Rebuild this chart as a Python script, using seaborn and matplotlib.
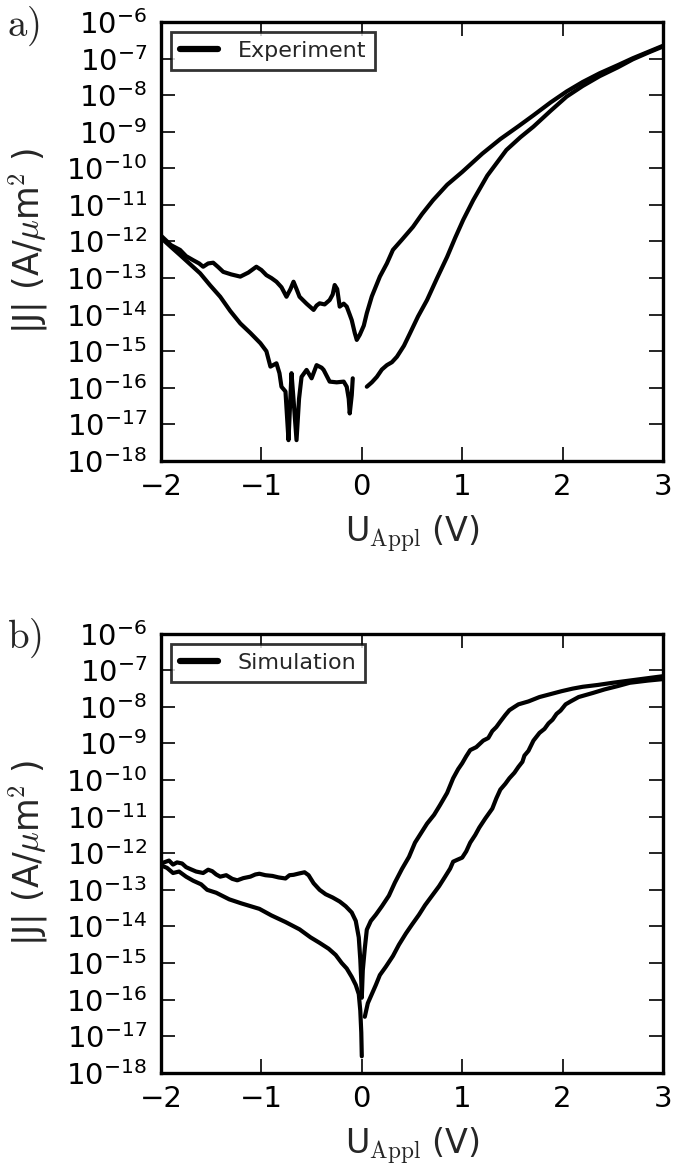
import matplotlib
matplotlib.use('Agg')
import matplotlib.pyplot as plt
import numpy as np
import pandas as pd
import seaborn as sns

# panel a) experiment, exponents of |J|
exp_up_x = [-2.0, -1.95, -1.9, -1.81, -1.75, -1.68, -1.62, -1.58, -1.53, -1.48,
            -1.43, -1.38, -1.3, -1.21, -1.13, -1.05, -1.0, -0.95, -0.9, -0.85,
            -0.8, -0.75, -0.71, -0.68, -0.65, -0.62, -0.55, -0.48, -0.45, -0.42,
            -0.37, -0.32, -0.29, -0.27, -0.245, -0.22, -0.18, -0.15, -0.12, -0.10,
            -0.07, -0.05, -0.02, 0.02, 0.05, 0.1, 0.18, 0.25, 0.31, 0.4,
            0.51, 0.6, 0.71, 0.85, 1.0, 1.2, 1.38, 1.56, 1.71, 1.88,
            2.04, 2.2, 2.37, 2.55, 2.7, 2.85, 3.0]
exp_up_e = [-11.84, -11.97, -12.1, -12.23, -12.4, -12.51, -12.6, -12.69, -12.6, -12.58,
            -12.7, -12.83, -12.9, -12.96, -12.85, -12.69, -12.78, -12.92, -13.0, -13.1,
            -13.25, -13.51, -13.3, -13.10, -13.3, -13.51, -13.7, -13.87, -13.75, -13.69,
            -13.72, -13.60, -13.45, -13.19, -13.3, -13.78, -13.7, -13.78, -14.0, -14.15,
            -14.5, -14.69, -14.55, -14.3, -13.96, -13.5, -12.96, -12.6, -12.23, -11.95,
            -11.60, -11.25, -10.87, -10.45, -10.1, -9.6, -9.2, -8.85, -8.55, -8.2,
            -7.9, -7.64, -7.40, -7.18, -6.99, -6.82, -6.65]

exp_lowleft_x = [-2.0, -1.9, -1.81, -1.71, -1.61, -1.51, -1.41, -1.31, -1.21, -1.11,
                 -1.01, -0.95, -0.91, -0.85, -0.82, -0.80, -0.76, -0.73, -0.715, -0.70,
                 -0.675, -0.65, -0.625, -0.60, -0.55, -0.50, -0.45, -0.40, -0.38, -0.32,
                 -0.25, -0.18, -0.15, -0.13, -0.12, -0.10, -0.09]
exp_lowleft_e = [-11.9, -12.15, -12.37, -12.62, -12.87, -13.2, -13.51, -13.9, -14.24, -14.5,
                 -14.78, -15.0, -15.42, -15.33, -15.6, -15.97, -16.1, -17.43, -16.5, -15.60,
                 -16.5, -17.43, -16.3, -15.70, -15.51, -15.74, -15.38, -15.45, -15.51, -15.83,
                 -15.85, -15.83, -15.97, -16.3, -16.70, -16.2, -15.74]

exp_lowright_x = [0.05, 0.1, 0.15, 0.2, 0.25, 0.3, 0.35, 0.42, 0.48, 0.56,
                  0.65, 0.75, 0.85, 0.93, 1.01, 1.11, 1.25, 1.44, 1.58, 1.71,
                  1.88, 2.04, 2.2, 2.37, 2.55, 2.7, 2.85, 3.0]
exp_lowright_e = [-15.97, -15.85, -15.70, -15.5, -15.38, -15.3, -15.15, -14.85, -14.51, -14.05,
                  -13.60, -13.0, -12.42, -11.9, -11.41, -10.87, -10.2, -9.5, -9.15, -8.86,
                  -8.43, -8.04, -7.75, -7.48, -7.24, -7.02, -6.84, -6.67]

# panel b) simulation
sim_up_x = [-2.0, -1.92, -1.88, -1.84, -1.79, -1.75, -1.71, -1.65, -1.58, -1.53,
            -1.49, -1.45, -1.41, -1.35, -1.29, -1.24, -1.18, -1.11, -1.06, -1.02,
            -0.96, -0.89, -0.83, -0.76, -0.72, -0.68, -0.62, -0.57, -0.53, -0.48,
            -0.42, -0.36, -0.29, -0.22, -0.16, -0.10, -0.06, -0.03, -0.015, -0.005,
            0.0, 0.01, 0.03, 0.05, 0.09, 0.14, 0.2, 0.27, 0.33, 0.40,
            0.47, 0.53, 0.59, 0.65, 0.72, 0.78, 0.85, 0.91, 0.96, 1.0,
            1.04, 1.08, 1.14, 1.21, 1.26, 1.30, 1.34, 1.38, 1.43, 1.47,
            1.52, 1.56, 1.66, 1.77, 1.88, 1.99, 2.1, 2.2, 2.35, 2.5,
            2.75, 3.0]
sim_up_e = [-12.28, -12.2, -12.31, -12.25, -12.28, -12.38, -12.43, -12.5, -12.54, -12.45,
            -12.49, -12.58, -12.64, -12.6, -12.7, -12.74, -12.68, -12.64, -12.58, -12.56,
            -12.6, -12.62, -12.66, -12.69, -12.6, -12.59, -12.55, -12.52, -12.6, -12.82,
            -13.0, -13.12, -13.21, -13.32, -13.45, -13.62, -13.85, -14.3, -14.9, -15.5,
            -15.95, -15.2, -14.6, -14.09, -13.85, -13.68, -13.45, -13.16, -12.8, -12.43,
            -12.1, -11.71, -11.45, -11.19, -10.95, -10.68, -10.35, -9.95, -9.7, -9.54,
            -9.35, -9.18, -9.1, -8.92, -8.85, -8.66, -8.55, -8.40, -8.22, -8.09,
            -8.0, -7.93, -7.85, -7.73, -7.65, -7.57, -7.5, -7.45, -7.4, -7.34,
            -7.25, -7.16]

sim_lowleft_x = [-2.0, -1.94, -1.88, -1.82, -1.75, -1.68, -1.6, -1.54, -1.45, -1.32,
                 -1.2, -1.02, -0.9, -0.76, -0.62, -0.51, -0.42, -0.33, -0.26, -0.2,
                 -0.15, -0.10, -0.06, -0.03, -0.015, -0.005, 0.0]
sim_lowleft_e = [-12.33, -12.4, -12.54, -12.5, -12.64, -12.75, -12.85, -13.0, -13.08, -13.26,
                 -13.37, -13.52, -13.7, -13.88, -14.08, -14.30, -14.45, -14.61, -14.78, -15.0,
                 -15.15, -15.38, -15.6, -15.85, -16.3, -16.9, -17.55]

sim_lowright_x = [0.03, 0.06, 0.10, 0.14, 0.18, 0.24, 0.31, 0.37, 0.44, 0.50,
                  0.57, 0.63, 0.70, 0.77, 0.83, 0.88, 0.91, 0.95, 1.0, 1.04,
                  1.08, 1.13, 1.17, 1.23, 1.30, 1.34, 1.38, 1.43, 1.47, 1.52,
                  1.56, 1.60, 1.62, 1.66, 1.71, 1.77, 1.82, 1.86, 1.90, 1.94,
                  1.98, 2.03, 2.08, 2.16, 2.3, 2.42, 2.55, 2.67, 2.85, 3.0]
sim_lowright_e = [-16.47, -16.1, -15.85, -15.6, -15.33, -15.1, -14.81, -14.5, -14.19, -13.95,
                  -13.68, -13.42, -13.16, -12.9, -12.64, -12.42, -12.23, -12.18, -12.12, -11.95,
                  -11.71, -11.5, -11.30, -11.05, -10.78, -10.5, -10.26, -10.1, -9.95, -9.8,
                  -9.64, -9.5, -9.33, -9.2, -8.92, -8.71, -8.6, -8.45, -8.35, -8.19,
                  -8.1, -7.93, -7.85, -7.73, -7.62, -7.52, -7.43, -7.34, -7.28, -7.24]

x_ticks = [-2, -1, 0, 1, 2, 3]
y_exps = list(range(-18, -5))

sns.set_style('ticks')
plt.rcParams['font.family'] = ['DejaVu Sans']
plt.rcParams['mathtext.fontset'] = 'dejavusans'
plt.rcParams['mathtext.default'] = 'regular'

fig = plt.figure(figsize=(6.75, 11.76), dpi=100)
ax_a = fig.add_axes([0.2385, 0.608, 0.7437, 0.3733])
ax_b = fig.add_axes([0.2385, 0.0878, 0.7437, 0.3733])


def draw(ax, segments, label, tag):
    for i, (xs, es) in enumerate(segments):
        df = pd.DataFrame({'U': xs, 'J': 10.0 ** np.array(es)})
        sns.lineplot(x='U', y='J', data=df, ax=ax, color='black', lw=3,
                     sort=False, estimator=None,
                     label=label if i == 0 else None, legend=False)
    ax.set_yscale('log')
    ax.set_xlim(-2, 3)
    ax.set_ylim(1e-18, 1e-6)
    ax.set_xticks(x_ticks)
    ax.set_xticklabels(['\u2212%d' % -t if t < 0 else '%d' % t for t in x_ticks])
    ax.set_yticks([10.0 ** e for e in y_exps])
    ax.set_yticklabels(['$10^{%d}$' % e for e in y_exps])
    ax.yaxis.set_minor_locator(matplotlib.ticker.NullLocator())
    ax.tick_params(direction='in', length=10, width=1.2, labelsize=21,
                   top=True, right=True, colors='black')
    ax.tick_params(axis='x', pad=9)
    ax.tick_params(axis='y', pad=10)
    for s in ax.spines.values():
        s.set_linewidth(2.4)
        s.set_color('black')
    ax.set_xlabel(r'U$_{\mathrm{Appl}}$ (V)', fontsize=24, math_fontfamily='cm')
    ax.set_ylabel(r'|J| (A/$\mathit{\mu}$m$^{\mathrm{2}}$ )', fontsize=25,
                  math_fontfamily='cm')
    ax.xaxis.set_label_coords(0.5, -0.12)
    ax.yaxis.set_label_coords(-0.222, 0.5)
    leg = ax.legend(loc='upper left', fontsize=16, frameon=True, fancybox=False,
                    borderaxespad=0.45, handlelength=1.7, handletextpad=0.9,
                    borderpad=0.4)
    leg.get_frame().set_edgecolor('black')
    leg.get_frame().set_linewidth(2.0)
    leg.get_lines()[0].set_linewidth(4.5)
    ax.text(-0.307, 0.99, r'$\mathrm{%s)}$' % tag, transform=ax.transAxes,
            fontsize=28, math_fontfamily='cm', ha='left', va='center')


draw(ax_a, [(exp_up_x, exp_up_e), (exp_lowleft_x, exp_lowleft_e),
            (exp_lowright_x, exp_lowright_e)], 'Experiment', 'a')
draw(ax_b, [(sim_up_x, sim_up_e), (sim_lowleft_x, sim_lowleft_e),
            (sim_lowright_x, sim_lowright_e)], 'Simulation', 'b')

fig.savefig('out.png', dpi=100)
